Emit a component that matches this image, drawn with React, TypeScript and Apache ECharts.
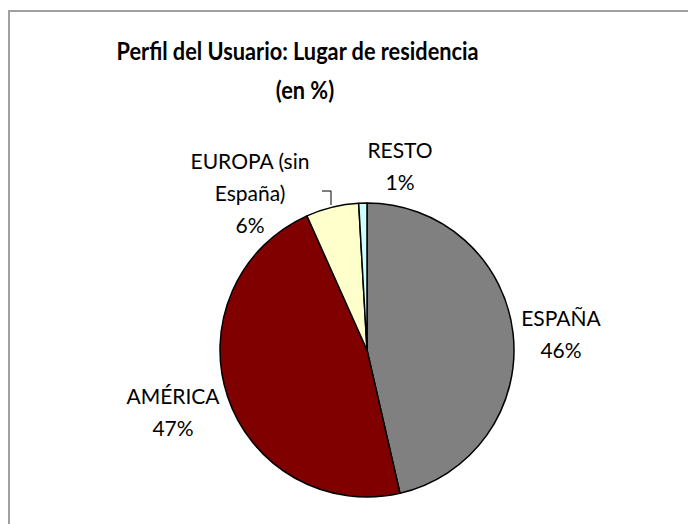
import React, { useEffect, useRef } from "react";
import * as echarts from "echarts";

const categories = ["ESPAÑA", "AMÉRICA", "EUROPA (sin España)", "RESTO"];
const values = [46.4, 46.9, 5.8, 0.9];
const labelTexts = ["ESPAÑA", "AMÉRICA", "EUROPA (sin\nEspaña)", "RESTO"];
const colors = ["#808080", "#800000", "#FFFFCC", "#CCFFFF"];
const titleLines = ["Perfil del Usuario: Lugar de residencia", "(en %)"];

const labelPos: number[][] = [
  [561, 333],
  [173, 411],
  [250, 192],
  [400, 165],
];

export default function App() {
  const ref = useRef<HTMLDivElement>(null);
  useEffect(() => {
    document.body.style.margin = "0";
    const chart = echarts.init(ref.current!, null, { renderer: "svg" });
    const titleStyle = {
      align: "center",
      verticalAlign: "middle",
      fontFamily: "Lato",
      fontWeight: "bold",
      fontSize: 25,
      fill: "#000",
    };
    chart.setOption({
      animation: false,
      backgroundColor: "#ffffff",
      graphic: [
        {
          type: "rect",
          shape: { x: 9, y: 11, width: 720, height: 620 },
          style: { fill: "none", stroke: "#a0a0a0", lineWidth: 2 },
          silent: true,
        },
        {
          type: "text",
          x: 297.5,
          y: 50,
          scaleX: 0.87,
          style: { ...titleStyle, text: titleLines[0] },
        },
        {
          type: "text",
          x: 305,
          y: 89,
          scaleX: 0.87,
          style: { ...titleStyle, text: titleLines[1] },
        },
      ],
      series: [
        {
          type: "pie",
          center: [367, 350],
          radius: 147,
          startAngle: 90,
          clockwise: true,
          avoidLabelOverlap: false,
          itemStyle: { borderColor: "#000", borderWidth: 1.5 },
          emphasis: { disabled: true },
          label: {
            show: true,
            position: "outside",
            fontFamily: "Lato",
            fontSize: 21,
            lineHeight: 32,
            color: "#000",
            align: "center",
            formatter: (p: any) =>
              labelTexts[p.dataIndex] + "\n" + Math.round(p.percent) + "%",
          },
          labelLine: { show: false },
          labelLayout: (p: any) => {
            const pos = labelPos[p.dataIndex];
            const out: any = {
              x: pos[0],
              y: pos[1],
              align: "center",
              verticalAlign: "middle",
            };
            if (p.dataIndex === 2) {
              out.labelLinePoints = [
                [331, 205],
                [331, 191],
                [322, 191],
              ];
            }
            return out;
          },
          data: categories.map((c, i) => ({
            name: c,
            value: values[i],
            itemStyle: { color: colors[i] },
            labelLine:
              i === 2
                ? { show: true, lineStyle: { color: "#000", width: 1 } }
                : { show: false },
          })),
        },
      ],
    });
    return () => chart.dispose();
  }, []);
  return <div ref={ref} style={{ width: 688, height: 524 }} />;
}
